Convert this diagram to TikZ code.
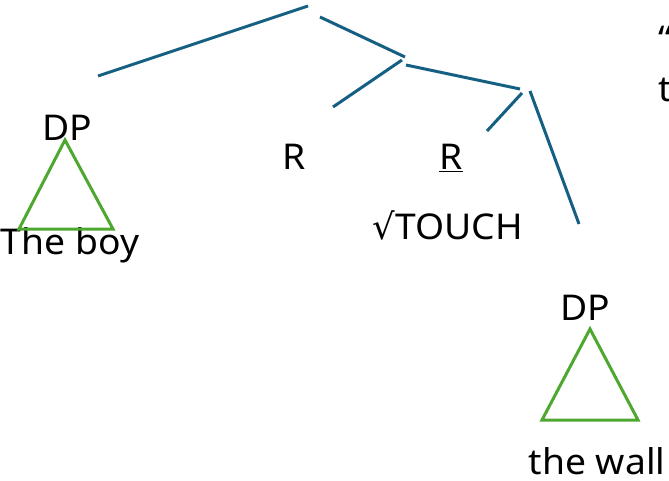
\documentclass[tikz,border=0pt]{standalone}
\usepackage{fontspec}
\setmainfont{Noto Sans}[FakeStretch=1.05]
\newfontfamily\symfont{DejaVu Sans}
\begin{document}
\begin{tikzpicture}[x=1pt,y=-1pt,
  branch/.style={draw={rgb,255:red,21;green,96;blue,130}, line width=3pt},
  tri/.style={draw={rgb,255:red,78;green,167;blue,46}, line width=3pt, line join=miter},
  lbl/.style={inner sep=0pt, anchor=base, font=\fontsize{35.5}{38}\selectfont}]
\useasboundingbox (0,0) rectangle (669,481);
\clip (0,0) rectangle (669,481);

% branch end points
\coordinate (top) at (308,6);
\coordinate (dpL) at (98,76);
\coordinate (topR) at (320,17);
\coordinate (m1) at (405,57);
\coordinate (m1a) at (402,60);
\coordinate (r1) at (333,107);
\coordinate (m1b) at (406,65);
\coordinate (m2) at (520,89);
\coordinate (m2a) at (522,93);
\coordinate (r2) at (487,131);
\coordinate (m2b) at (530,91);
\coordinate (dpR) at (579,224);

% tree branches
\draw[branch] (dpL) -- (top);
\draw[branch] (topR) -- (m1);
\draw[branch] (m1a) -- (r1);
\draw[branch] (m1b) -- (m2);
\draw[branch] (m2a) -- (r2);
\draw[branch] (m2b) -- (dpR);

% labels
\node[lbl] (dp1) at (67,141) {DP};
\node[lbl] (boy) at (70,254) {The boy};
\node[lbl] (R1) at (294,170) {R};
\node[lbl] (R2) at (451,170) {\underline{R}};
\node[lbl] (root) at (448,240) {{\symfont √}TOUCH};
\node[lbl] (dp2) at (585,320) {DP};
\node[lbl] (wall) at (597,474) {the wall};
\node[lbl, anchor=base west] (q1) at (658,52) {“};
\node[lbl, anchor=base west] (q2) at (658,102) {t};

% triangles under the DPs
\coordinate (t1a) at (65,140);
\coordinate (t1b) at (19,229);
\coordinate (t1c) at (113,229);
\draw[tri] (t1a) -- (t1b) -- (t1c) -- cycle;
\coordinate (t2a) at (590,329);
\coordinate (t2b) at (542,420);
\coordinate (t2c) at (638,420);
\draw[tri] (t2a) -- (t2b) -- (t2c) -- cycle;
\end{tikzpicture}
\end{document}
